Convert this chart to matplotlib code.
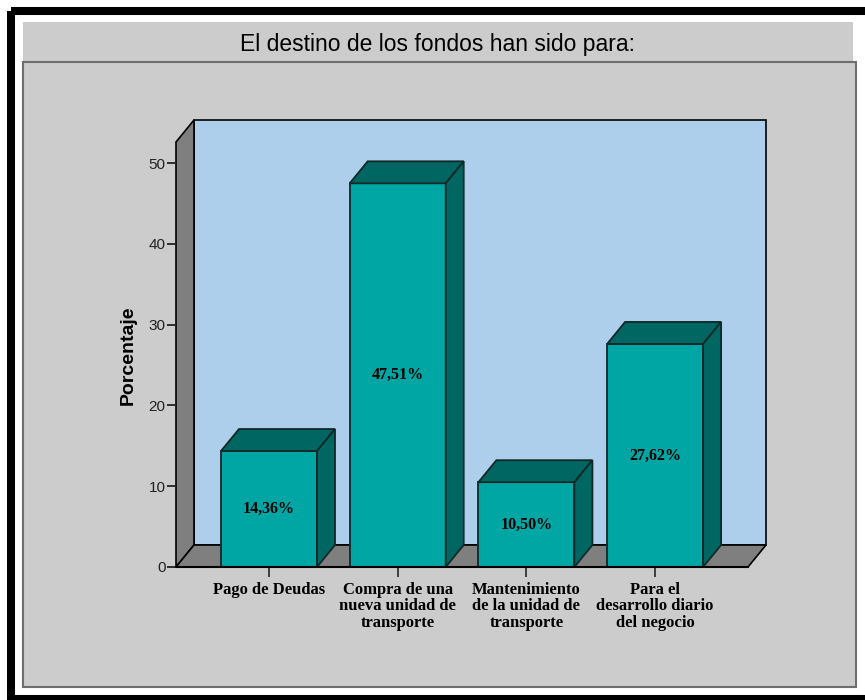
import matplotlib
matplotlib.use("Agg")
import matplotlib.pyplot as plt
from matplotlib.patches import Polygon, Rectangle

# Datos
categorias = ["Pago de Deudas",
              "Compra de una\nnueva unidad de\ntransporte",
              "Mantenimiento\nde la unidad de\ntransporte",
              "Para el\ndesarrollo diario\ndel negocio"]
porcentajes = [14.36, 47.51, 10.50, 27.62]
yticks = [0, 10, 20, 30, 40, 50]
titulo = "El destino de los fondos han sido para:"

# colores
c_frente = "#00a6a4"
c_oscuro = "#006661"
c_borde = "#102828"
c_pared = "#aecfec"
c_gris = "#7f7f7f"
c_panel = "#cccccc"

W, H = 865, 700
fig = plt.figure(figsize=(W / 100, H / 100), dpi=100)
fig.patch.set_facecolor("white")

# fondo: marco negro, franja del titulo y panel
bg = fig.add_axes([0, 0, 1, 1])
bg.set_xlim(0, W)
bg.set_ylim(H, 0)
bg.axis("off")
bg.add_patch(Rectangle((11, 11), 860, 688, fill=False, ec="black", lw=5.8))
bg.add_patch(Rectangle((23, 22), 830, 40, fc=c_panel, ec="none"))
bg.add_patch(Rectangle((23, 62), 833, 625, fc=c_panel, ec="#6e6e6e", lw=1.5))
bg.text(438, 45, titulo, ha="center", va="center", fontsize=16.5,
        family="Liberation Sans")

# ejes del grafico (plano frontal)
x_izq, x_der, y_bot, y_top = 176, 766, 567, 120
ax = fig.add_axes([x_izq / W, (H - y_bot) / H, (x_der - x_izq) / W, (y_bot - y_top) / H])
ax.patch.set_visible(False)
for s in ax.spines.values():
    s.set_visible(False)

px_cat = 128.7
px_val = 8.076
x0 = -93 / px_cat
x1 = x0 + (x_der - x_izq) / px_cat
ymax = (y_bot - y_top) / px_val
ax.set_xlim(x0, x1)
ax.set_ylim(0, ymax)

# profundidad 3D en unidades de datos
dx = 18 / px_cat
dy = 22 / px_val
xf = x1 - dx  # borde frontal derecho del piso

# pared del fondo, pared lateral y piso
ax.add_patch(Rectangle((x0 + dx, dy), x1 - x0 - dx, ymax - dy, fc=c_pared,
                       ec="black", lw=1.2, zorder=1, clip_on=False))
ax.add_patch(Polygon([(x0, 0), (x0, ymax - dy), (x0 + dx, ymax), (x0 + dx, dy)],
                     closed=True, fc=c_gris, ec="black", lw=1.2, zorder=1, clip_on=False))
ax.add_patch(Polygon([(x0, 0), (xf, 0), (x1, dy), (x0 + dx, dy)],
                     closed=True, fc=c_gris, ec="black", lw=1.2, zorder=1, clip_on=False))

# barras
ancho = 96 / px_cat
xs = list(range(len(porcentajes)))
ax.bar(xs, porcentajes, width=ancho, color=c_frente, edgecolor=c_borde,
       linewidth=1.3, zorder=3)
for x, v in zip(xs, porcentajes):
    l, r = x - ancho / 2, x + ancho / 2
    ax.add_patch(Polygon([(l, v), (r, v), (r + dx, v + dy), (l + dx, v + dy)],
                         closed=True, fc=c_oscuro, ec=c_borde, lw=1.3, zorder=3))
    ax.add_patch(Polygon([(r, 0), (r, v), (r + dx, v + dy), (r + dx, dy)],
                         closed=True, fc=c_oscuro, ec=c_borde, lw=1.3, zorder=3))
    ax.text(x, v / 2, ("%.2f%%" % v).replace(".", ","), ha="center", va="center",
            fontsize=11.5, fontweight="bold", family="Liberation Serif", zorder=4)

# linea base del eje x
ax.plot([x0, xf], [0, 0], color="black", lw=1.5, zorder=4, clip_on=False)

ax.set_yticks(yticks)
ax.set_yticklabels([str(t) for t in yticks], fontsize=11, family="Liberation Sans",
                   color="#222222")
ax.tick_params(axis="y", direction="out", length=6.5, width=1.3, pad=1, color="#222222")
ax.set_xticks(xs)
ax.set_xticklabels(categorias, fontsize=12, fontweight="bold", family="Liberation Serif",
                   linespacing=1.05)
ax.tick_params(axis="x", direction="out", length=7.5, width=1.3, pad=3, color="#333333")

fig.text(128 / W, 1 - 355 / H, "Porcentaje", rotation=90, ha="center", va="center",
         fontsize=14, fontweight="bold", family="Liberation Sans")

plt.savefig("out.png", dpi=100, facecolor="white")
